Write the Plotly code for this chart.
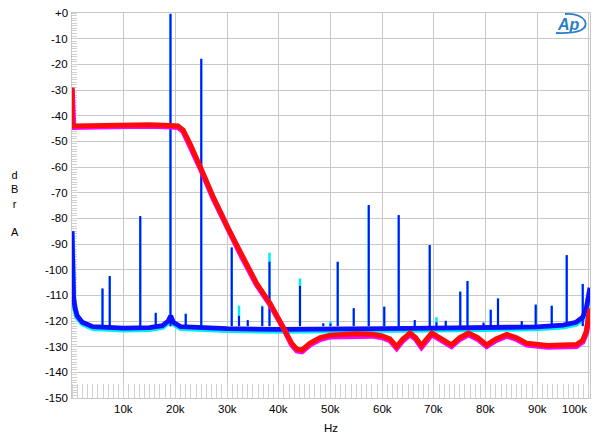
import plotly.graph_objects as go

# ---------------- data ----------------
# Blue noise floor (frequency in kHz, level in dBr A)
blue_floor_khz = [0, 0.05, 0.15, 0.3, 0.6, 1.0, 2.0, 4.0, 10, 15, 17.5, 18.6, 19.1, 19.6, 21,
                  30, 40, 50, 60, 70, 80, 90, 95, 97.5, 98.8, 99.5, 100.2]
blue_floor_db = [-85, -100, -107, -111, -115, -118, -120.5, -122.2, -122.8, -122.6, -121.8, -120,
                 -118, -120.5, -122.2, -123, -123.3, -123.3, -123, -122.8, -122.6, -122.3, -121.6,
                 -120.5, -118.5, -115, -107]
# Cyan noise floor (lower edge of the band)
cyan_floor_khz = blue_floor_khz
cyan_floor_db = [-85.5, -100.5, -107.5, -111.5, -115.5, -118.5, -121, -122.8, -123.4, -123.2,
                 -122.4, -120.6, -118.6, -121, -122.8, -123.6, -123.9, -123.9, -123.6, -123.4,
                 -123.2, -122.9, -122.2, -121.1, -119.1, -115.6, -107.6]

# Spurious tones / pilot peaks
spike_khz = [5.9, 7.3, 13.2, 16.2, 19.05, 22.0, 25.0, 30.9, 32.3, 34.0, 36.8, 38.2, 44.1, 48.6,
             50.0, 51.4, 54.5, 57.4, 60.4, 63.2, 66.3, 69.2, 70.5, 72.3, 75.1, 76.5, 79.6, 81.0,
             82.4, 87.0, 89.7, 92.8, 95.7, 98.8]
spike_blue_db = [-107.3, -102.5, -79.1, -116.8, -0.3, -117.3, -17.8, -91.3, -118, -119.6, -114.4,
                 -96.9, -106.3, -120.9, -121, -96.9, -115, -74.8, -114.4, -78.7, -119.6, -90.4,
                 -120.5, -119.9, -108.6, -104.4, -120.6, -115.7, -111.3, -120, -113.7, -114.1,
                 -94.3, -105.6]
spike_cyan_db = [-107.5, -102.5, -79.5, -117, -0.6, -117, -18, -91.5, -114, -120, -114, -93.4,
                 -103.4, -121, -120, -97, -115, -75, -114.5, -79, -120, -90.5, -118.5, -120,
                 -108.5, -104.5, -121, -115.5, -111, -120.5, -113.5, -114, -94.5, -105.5]
spike_base_db = -122

# Red / magenta trace
red_khz = [0, 0.05, 0.3, 5, 10, 15, 19, 20.5, 21.5, 22.8, 24.8, 27.3, 30.2, 32.8, 35.7, 38.3,
           40.9, 42.5, 43.5, 44.5, 46, 48, 50, 55, 58, 60, 61.5, 62.8, 64, 65.4, 66.5, 67.6,
           68.6, 69.6, 71.5, 73.4, 75, 76.7, 78.5, 80.2, 82, 84.1, 86, 88, 92, 95, 97.6, 98.8,
           99.5, 100.2]
red_db = [-29, -43.5, -44, -43.8, -43.5, -43.5, -43.8, -44, -45.6, -50.8, -59.9, -71.6, -83.9,
          -94.3, -105.3, -113.1, -122.2, -128.7, -131, -131.3, -128.7, -126.5, -125.5, -125,
          -125.2, -125.8, -127, -130, -127, -124.7, -126.5, -129.6, -127, -124.7, -127, -129.3,
          -126.5, -124.7, -126.5, -129.3, -127, -125.2, -126.5, -128.7, -129.5, -129.5, -129.2,
          -127.5, -124, -115]
magenta_db = [-29.5, -44, -44.5, -44.3, -44, -44, -44.3, -44.5, -46.1, -51.3, -60.4, -72.1, -84.4,
              -94.8, -105.8, -113.6, -122.7, -129.2, -131.6, -131.9, -129.3, -127.1, -126.1,
              -125.6, -125.8, -126.4, -127.6, -130.6, -127.6, -125.3, -127.1, -130.2, -127.6,
              -125.3, -127.6, -129.9, -127.1, -125.3, -127.1, -129.9, -127.6, -125.8, -127.1,
              -129.3, -130.1, -130.1, -129.8, -128.1, -124.6, -115.6]

x_tick_khz = [10, 20, 30, 40, 50, 60, 70, 80, 90, 100]
x_tick_text = ["10k", "20k", "30k", "40k", "50k", "60k", "70k", "80k", "90k", "100k"]
y_tick_vals = [0, -10, -20, -30, -40, -50, -60, -70, -80, -90, -100, -110, -120, -130, -140, -150]
y_tick_text = ["+0", "-10", "-20", "-30", "-40", "-50", "-60", "-70", "-80", "-90", "-100",
               "-110", "-120", "-130", "-140", "-150"]

# ---------------- figure ----------------
# The page body has an 8 px margin, so the figure is 8 px smaller and offsets are adjusted.
OFF = 8
W, H = 600 - OFF, 446 - OFF
ML, MR, MT, MB = 72 - OFF, 10, 13 - OFF, 48
FONT = "Arial, Liberation Sans, sans-serif"
FS = 11.5

def hz(vals):
    return [v * 1000 for v in vals]

def spikes_xy(freqs, peaks, base):
    xs, ys = [], []
    for f, p in zip(freqs, peaks):
        xs += [f * 1000, f * 1000, None]
        ys += [base, p, None]
    return xs, ys

fig = go.Figure()

cx, cy = spikes_xy(spike_khz, spike_cyan_db, spike_base_db)
fig.add_trace(go.Scatter(x=hz(cyan_floor_khz), y=cyan_floor_db, mode="lines",
                         line=dict(color="#00f0f0", width=5.5), hoverinfo="skip"))
fig.add_trace(go.Scatter(x=cx, y=cy, mode="lines", line=dict(color="#00f0f0", width=2.5),
                         hoverinfo="skip"))
bx, by = spikes_xy(spike_khz, spike_blue_db, spike_base_db)
fig.add_trace(go.Scatter(x=hz(blue_floor_khz), y=blue_floor_db, mode="lines",
                         line=dict(color="#0f0fff", width=4.8), hoverinfo="skip"))
fig.add_trace(go.Scatter(x=bx, y=by, mode="lines", line=dict(color="#0f0fff", width=2),
                         hoverinfo="skip"))
fig.add_trace(go.Scatter(x=hz(red_khz), y=magenta_db, mode="lines",
                         line=dict(color="#ff00ff", width=5.5), hoverinfo="skip"))
fig.add_trace(go.Scatter(x=hz(red_khz), y=red_db, mode="lines",
                         line=dict(color="#ff0a0a", width=5), hoverinfo="skip"))

annotations = []
for v, t in zip(x_tick_khz, x_tick_text):
    last = v == x_tick_khz[-1]
    annotations.append(dict(x=v * 1000, y=0, xref="x", yref="paper", text=t, showarrow=False,
                            xanchor="right" if last else "center", yanchor="middle",
                            yshift=-11, font=dict(family=FONT, size=FS, color="#000")))
for v, t in zip(y_tick_vals, y_tick_text):
    annotations.append(dict(x=0, y=v, xref="paper", yref="y", text=t, showarrow=False,
                            xanchor="right", yanchor="middle", xshift=-2,
                            font=dict(family=FONT, size=FS, color="#000")))
annotations.append(dict(x=0.5, y=0, xref="paper", yref="paper", text="Hz", showarrow=False,
                        yshift=-30, yanchor="middle",
                        font=dict(family=FONT, size=FS, color="#000")))
annotations.append(dict(x=(15 - 72) / (600 - 72 - 10), y=0.505, xref="paper", yref="paper",
                        text="d<br>B<br>r<br><br>A", showarrow=False, align="center",
                        xanchor="center", yanchor="middle",
                        font=dict(family=FONT, size=11, color="#000")))

def px2paper(px, py):
    # px, py are window pixel coordinates
    return (px - 72) / (600 - 72 - 10), (398 - py) / (398 - 13)

lx, ly = px2paper(568, 24)
annotations.append(dict(x=lx, y=ly, xref="paper", yref="paper", text="<b><i>Ap</i></b>",
                        showarrow=False, xanchor="center", yanchor="middle",
                        font=dict(family=FONT, size=16, color="#2a7fc8")))

pts = [(556, 33), (590, 34), (585, 21), (580, 13), (565, 14)]
p = [px2paper(a, b) for a, b in pts]
path = (f"M {p[0][0]},{p[0][1]} Q {p[1][0]},{p[1][1]} {p[2][0]},{p[2][1]} "
        f"Q {p[3][0]},{p[3][1]} {p[4][0]},{p[4][1]}")

fig.update_layout(
    width=W, height=H,
    margin=dict(l=ML, r=MR, t=MT, b=MB, pad=0),
    paper_bgcolor="white", plot_bgcolor="white",
    showlegend=False,
    annotations=annotations,
    shapes=[dict(type="path", path=path, xref="paper", yref="paper",
                 line=dict(color="#2a7fc8", width=1.8))],
    font=dict(family=FONT, size=FS, color="#000"),
)
fig.update_xaxes(range=[0, 100200], tickvals=hz(x_tick_khz), showticklabels=False,
                 showgrid=True, gridcolor="#c8c8c8", gridwidth=1, zeroline=False,
                 showline=True, linecolor="#c8c8c8", mirror=True, ticks="",
                 layer="below traces", automargin=False,
                 minor=dict(ticks="inside", ticklen=14, dtick=1000, tickcolor="#d0d0d0",
                            tickwidth=1, showgrid=False))
fig.update_yaxes(range=[-150, 0], tickvals=y_tick_vals, showticklabels=False,
                 showgrid=True, gridcolor="#c8c8c8", gridwidth=1, zeroline=False,
                 showline=True, linecolor="#c8c8c8", mirror=True, ticks="",
                 layer="below traces", automargin=False,
                 minor=dict(ticks="inside", ticklen=5, dtick=1, tickcolor="#d0d0d0",
                            tickwidth=1, showgrid=False))

fig.write_html("out.html")
